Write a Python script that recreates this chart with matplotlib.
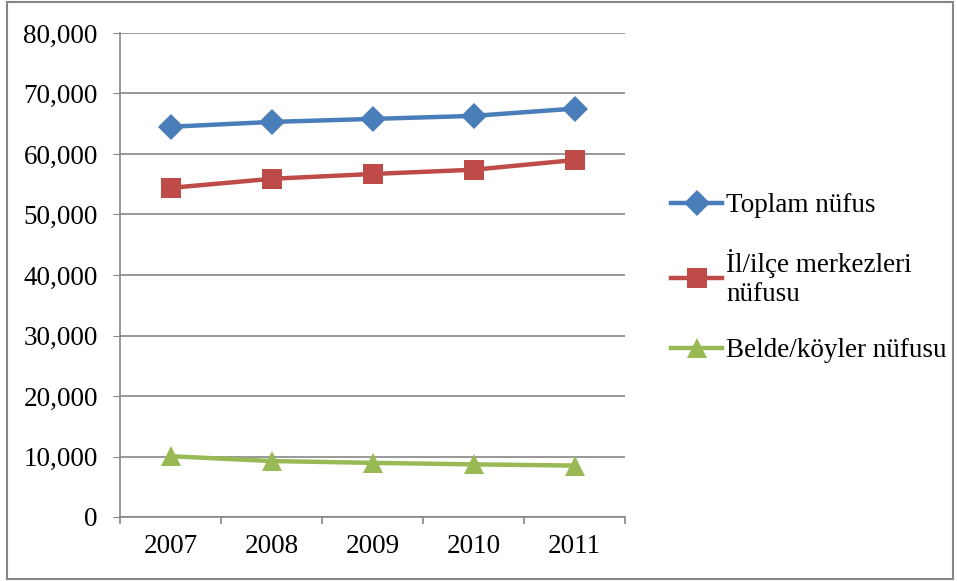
import matplotlib
matplotlib.use("Agg")
import matplotlib.pyplot as plt
from matplotlib.patches import Rectangle
from matplotlib.ticker import FuncFormatter, FixedLocator

# population data
years = ['2007', '2008', '2009', '2010', '2011']
toplam = [64500, 65300, 65800, 66300, 67500]
il_ilce = [54400, 55900, 56700, 57400, 59000]
belde_koy = [10050, 9250, 8950, 8700, 8500]

labels = ['Toplam nüfus', 'İl/ilçe merkezleri\nnüfusu', 'Belde/köyler nüfusu']
colors = ['#4A7EBB', '#BE4B48', '#98B954']
markers = ['D', 's', '^']
msizes = [13, 14, 15]

plt.rcParams['font.family'] = ['Liberation Serif', 'DejaVu Serif']
grid_col = '#868686'
fs = 19.5

fig = plt.figure(figsize=(9.57, 5.81), dpi=100)
ax = fig.add_axes([120 / 957, 64 / 581, 505 / 957, 484 / 581])

x = list(range(len(years)))
for vals, lab, col, mk, ms in zip([toplam, il_ilce, belde_koy], labels, colors, markers, msizes):
    ax.plot(x, vals, color=col, lw=3.2, marker=mk, markersize=ms,
            markeredgewidth=0, label=lab, zorder=3)

ax.set_xlim(-0.5, len(years) - 0.5)
ax.set_ylim(0, 80000)
ax.set_yticks(range(0, 80001, 10000))
ax.yaxis.set_major_formatter(FuncFormatter(lambda v, p: f'{int(v):,}'))
ax.set_xticks(x)
ax.set_xticklabels(years)
ax.xaxis.set_minor_locator(FixedLocator([i - 0.5 for i in range(len(years) + 1)]))

ax.grid(axis='y', color=grid_col, lw=1.2, zorder=1)
ax.set_axisbelow(True)
for s in ['top', 'right']:
    ax.spines[s].set_visible(False)
for s in ['left', 'bottom']:
    ax.spines[s].set_color(grid_col)
    ax.spines[s].set_linewidth(1.2)

ax.tick_params(axis='y', which='major', direction='out', length=5, color=grid_col,
               labelsize=fs, pad=11)
ax.tick_params(axis='x', which='major', length=0, labelsize=fs, pad=12)
ax.tick_params(axis='x', which='minor', direction='out', length=5, color=grid_col, width=1.2)

leg = fig.legend(loc='center left', bbox_to_anchor=(660 / 957, 1 - 278 / 581),
                 frameon=False, fontsize=fs, handlelength=1.9, handletextpad=0.15,
                 labelspacing=1.15, borderaxespad=0)
for t in leg.get_texts():
    t.set_linespacing(1.2)

# outer border of the chart
fig.patches.append(Rectangle((7 / 957, 2 / 581), 946 / 957, 577 / 581,
                             transform=fig.transFigure, fill=False,
                             edgecolor=grid_col, lw=1.5))

fig.savefig('out.png', dpi=100)
